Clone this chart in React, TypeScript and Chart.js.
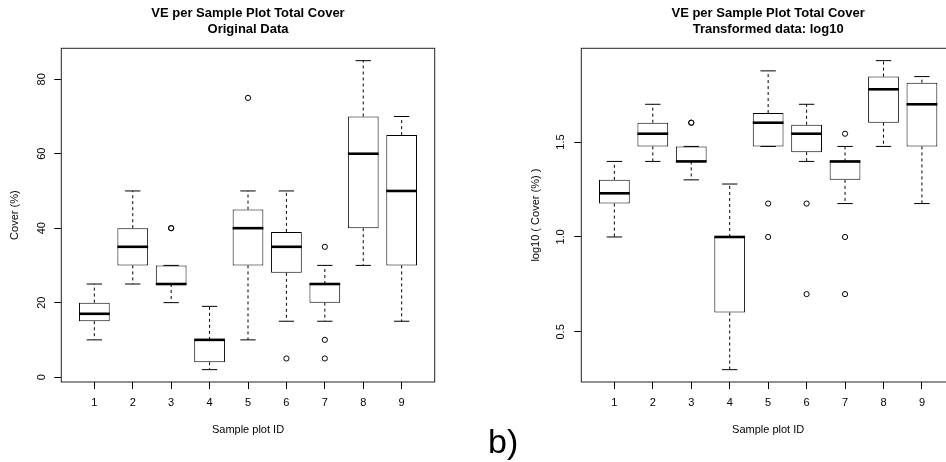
import React, { useEffect, useRef } from "react";
import { Chart, registerables } from "chart.js";

Chart.register(...registerables);

const FONT = '"Liberation Sans", Arial, Helvetica, sans-serif';

// ---------- data ----------
const plotIds = [1, 2, 3, 4, 5, 6, 7, 8, 9];
const xTickLabels = ["1", "2", "3", "4", "5", "6", "7", "8", "9"];

// Original data (Cover %)
const origLow = [10, 25, 20, 2, 10, 15, 15, 30, 15];
const origQ1 = [15, 30, 25, 4, 30, 28, 20, 40, 30];
const origMed = [17, 35, 25, 10, 40, 35, 25, 60, 50];
const origQ3 = [20, 40, 30, 10, 45, 39, 25, 70, 65];
const origHigh = [25, 50, 30, 19, 50, 50, 30, 85, 70];
const origOutlierIds = [3, 3, 5, 6, 7, 7, 7];
const origOutlierVals = [40, 40, 75, 5, 35, 10, 5];
const origYTicks = [0, 20, 40, 60, 80];
const origYTickLabels = ["0", "20", "40", "60", "80"];

// Transformed data (log10)
const logLow = [1.0, 1.398, 1.301, 0.301, 1.477, 1.398, 1.176, 1.477, 1.176];
const logQ1 = [1.176, 1.477, 1.398, 0.602, 1.477, 1.447, 1.301, 1.602, 1.477];
const logMed = [1.23, 1.544, 1.398, 1.0, 1.602, 1.544, 1.398, 1.778, 1.699];
const logQ3 = [1.301, 1.602, 1.477, 1.0, 1.653, 1.591, 1.398, 1.845, 1.813];
const logHigh = [1.398, 1.699, 1.477, 1.279, 1.875, 1.699, 1.477, 1.929, 1.845];
const logOutlierIds = [3, 3, 5, 5, 6, 6, 7, 7, 7];
const logOutlierVals = [1.602, 1.602, 1.176, 1.0, 1.176, 0.699, 1.544, 1.0, 0.699];
const logYTicks = [0.5, 1.0, 1.5];
const logYTickLabels = ["0.5", "1.0", "1.5"];

type Stats = {
  low: number[];
  q1: number[];
  med: number[];
  q3: number[];
  high: number[];
  outIds: number[];
  outVals: number[];
};

const boxPartsPlugin = {
  id: "boxParts",
  beforeDatasetsDraw(chart: any, _args: any, opts: any) {
    const s: Stats = opts.stats;
    if (!s) return;
    const { ctx } = chart;
    const x = chart.scales.x;
    const y = chart.scales.y;
    ctx.save();
    ctx.strokeStyle = "#000";
    ctx.lineWidth = 1;
    plotIds.forEach((id, i) => {
      const cx = x.getPixelForValue(id);
      const sh = x.getPixelForValue(id + 0.2) - cx;
      ctx.setLineDash([3, 3]);
      ctx.beginPath();
      ctx.moveTo(cx, y.getPixelForValue(s.q3[i]));
      ctx.lineTo(cx, y.getPixelForValue(s.high[i]));
      ctx.moveTo(cx, y.getPixelForValue(s.q1[i]));
      ctx.lineTo(cx, y.getPixelForValue(s.low[i]));
      ctx.stroke();
      ctx.setLineDash([]);
      ctx.beginPath();
      const yh = y.getPixelForValue(s.high[i]);
      const yl = y.getPixelForValue(s.low[i]);
      ctx.moveTo(cx - sh, yh);
      ctx.lineTo(cx + sh, yh);
      ctx.moveTo(cx - sh, yl);
      ctx.lineTo(cx + sh, yl);
      ctx.stroke();
    });
    ctx.restore();
  },
  afterDatasetsDraw(chart: any, _args: any, opts: any) {
    const s: Stats = opts.stats;
    if (!s) return;
    const { ctx, chartArea } = chart;
    const x = chart.scales.x;
    const y = chart.scales.y;
    ctx.save();
    ctx.strokeStyle = "#000";
    ctx.lineWidth = 2.6;
    ctx.lineCap = "butt";
    plotIds.forEach((id, i) => {
      const cx = x.getPixelForValue(id);
      const hw = x.getPixelForValue(id + 0.4) - cx;
      const ym = y.getPixelForValue(s.med[i]);
      ctx.beginPath();
      ctx.moveTo(cx - hw, ym);
      ctx.lineTo(cx + hw, ym);
      ctx.stroke();
    });
    ctx.lineWidth = 1;
    ctx.strokeStyle = "#222";
    ctx.strokeRect(
      chartArea.left,
      chartArea.top,
      chartArea.right - chartArea.left,
      chartArea.bottom - chartArea.top
    );
    ctx.restore();
  },
};

type BoxChartProps = {
  width: number;
  height: number;
  yAxisWidth: number;
  rightPad: number;
  titleLines: string[];
  yTitle: string;
  yTitlePad: number;
  yTickPad: number;
  yMin: number;
  yMax: number;
  yTicks: number[];
  yTickLabels: string[];
  stats: Stats;
};

function BoxChart(p: BoxChartProps) {
  const ref = useRef<HTMLCanvasElement | null>(null);
  useEffect(() => {
    if (!ref.current) return;
    const s = p.stats;
    const chart = new Chart(ref.current, {
      type: "bar",
      data: {
        datasets: [
          {
            type: "bar",
            data: plotIds.map((id, i) => ({ x: id, y: [s.q1[i], s.q3[i]] })) as any,
            backgroundColor: "#fff",
            borderColor: "#000",
            borderWidth: 1,
            borderSkipped: false,
            barPercentage: 0.8,
            categoryPercentage: 1,
          } as any,
          {
            type: "scatter",
            data: s.outIds.map((id, i) => ({ x: id, y: s.outVals[i] })),
            pointStyle: "circle",
            pointRadius: 2.6,
            pointBorderWidth: 1,
            pointBorderColor: "#000",
            pointBackgroundColor: "rgba(0,0,0,0)",
            showLine: false,
          } as any,
        ],
      },
      options: {
        responsive: false,
        animation: false,
        devicePixelRatio: 1,
        events: [],
        layout: { padding: { top: 0, left: 0, right: p.rightPad, bottom: 0 } },
        plugins: {
          legend: { display: false },
          tooltip: { enabled: false },
          title: {
            display: true,
            text: p.titleLines,
            fullSize: false,
            color: "#000",
            font: { family: FONT, size: 13, weight: "bold", lineHeight: 16 / 13 },
            padding: { top: 5.3, bottom: 11 },
          },
          boxParts: { stats: s },
        } as any,
        scales: {
          x: {
            type: "linear",
            min: 0.14,
            max: 9.86,
            offset: false,
            afterBuildTicks: (scale: any) => {
              scale.ticks = plotIds.map((v) => ({ value: v }));
            },
            afterFit: (scale: any) => {
              scale.height = 80;
            },
            ticks: {
              autoSkip: false,
              maxRotation: 0,
              minRotation: 0,
              padding: 7.7,
              color: "#000",
              font: { family: FONT, size: 11 },
              callback: (_v: any, idx: number) => xTickLabels[idx],
            },
            grid: {
              display: true,
              drawOnChartArea: false,
              drawTicks: true,
              tickLength: 7,
              color: "#000",
              offset: false,
            },
            border: { display: false },
            title: {
              display: true,
              text: "Sample plot ID",
              color: "#000",
              font: { family: FONT, size: 11 },
              padding: { top: 0, bottom: 25.4 },
            },
          },
          y: {
            type: "linear",
            min: p.yMin,
            max: p.yMax,
            beginAtZero: false,
            afterBuildTicks: (scale: any) => {
              scale.ticks = p.yTicks.map((v) => ({ value: v }));
            },
            afterFit: (scale: any) => {
              scale.width = p.yAxisWidth;
            },
            ticks: {
              minRotation: 90,
              maxRotation: 90,
              crossAlign: "center",
              padding: p.yTickPad,
              color: "#000",
              font: { family: FONT, size: 11 },
              callback: (_v: any, idx: number) => p.yTickLabels[idx],
            },
            grid: {
              display: true,
              drawOnChartArea: false,
              drawTicks: true,
              tickLength: 7,
              color: "#000",
            },
            border: { display: false },
            title: {
              display: true,
              text: p.yTitle,
              color: "#000",
              font: { family: FONT, size: 11 },
              padding: { top: p.yTitlePad, bottom: 0 },
            },
          },
        },
      } as any,
      plugins: [boxPartsPlugin as any],
    });
    return () => chart.destroy();
  }, []);
  return (
    <canvas
      ref={ref}
      width={p.width}
      height={p.height}
      style={{ display: "block", width: p.width, height: p.height }}
    />
  );
}

export default function App() {
  const origStats: Stats = {
    low: origLow,
    q1: origQ1,
    med: origMed,
    q3: origQ3,
    high: origHigh,
    outIds: origOutlierIds,
    outVals: origOutlierVals,
  };
  const logStats: Stats = {
    low: logLow,
    q1: logQ1,
    med: logMed,
    q3: logQ3,
    high: logHigh,
    outIds: logOutlierIds,
    outVals: logOutlierVals,
  };
  return (
    <div
      style={{
        position: "fixed",
        left: 0,
        top: 0,
        width: 946,
        height: 462,
        overflow: "hidden",
        background: "#fff",
      }}
    >
      <div style={{ position: "absolute", left: 0, top: 0 }}>
        <BoxChart
          width={473}
          height={462}
          yAxisWidth={61.3}
          rightPad={38.3}
          titleLines={["VE per Sample Plot Total Cover", "Original Data"]}
          yTitle="Cover (%)"
          yTitlePad={8.4}
          yTickPad={6.5}
          yMin={-1.32}
          yMax={88.32}
          yTicks={origYTicks}
          yTickLabels={origYTickLabels}
          stats={origStats}
        />
      </div>
      <div style={{ position: "absolute", left: 473, top: 0 }}>
        <BoxChart
          width={520}
          height={462}
          yAxisWidth={108.3}
          rightPad={38}
          titleLines={["VE per Sample Plot Total Cover", "Transformed data: log10"]}
          yTitle="log10 ( Cover (%) )"
          yTitlePad={56.7}
          yTickPad={5.4}
          yMin={0.236}
          yMax={1.994}
          yTicks={logYTicks}
          yTickLabels={logYTickLabels}
          stats={logStats}
        />
      </div>
      <span
        style={{
          position: "absolute",
          left: 488,
          top: 423.5,
          fontSize: 34,
          lineHeight: "34px",
          fontFamily: FONT,
          color: "#000",
          whiteSpace: "nowrap",
        }}
      >
        b)
      </span>
    </div>
  );
}
